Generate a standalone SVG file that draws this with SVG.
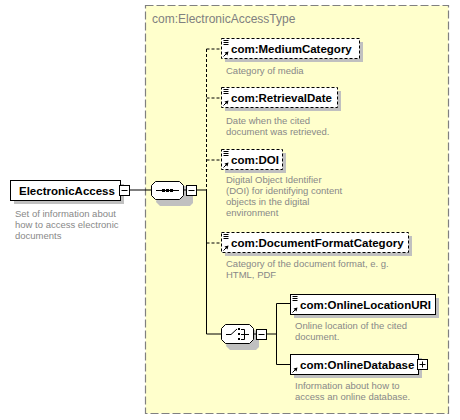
<svg xmlns="http://www.w3.org/2000/svg" width="460" height="420" viewBox="0 0 460 420">
<style>
.bg{fill:#ffffff}
.type{fill:#ffffcc;stroke:#808080;stroke-width:1.2;stroke-dasharray:8,3}
.title{font-family:"Liberation Sans",Arial,sans-serif;font-size:12px;fill:#808080}
.box{fill:#ffffff;stroke:#000000;stroke-width:1}
.opt{stroke-dasharray:3,2}
.shadow{fill:#c0c0c0}
.lbl{font-family:"Liberation Sans",Arial,sans-serif;font-size:11.5px;font-weight:bold;fill:#000000}
.desc{font-family:"Liberation Sans",Arial,sans-serif;font-size:9.5px;fill:#888888}
.ln{fill:none;stroke:#000000;stroke-width:1}
.dash{stroke-dasharray:3,2}
.pm{fill:#ffffff;stroke:#000000;stroke-width:1}
.dot{fill:#000000}
</style>
<defs>
<g id="lines"><path d="M2.5 2.5h5M2.5 4.5h5M2.5 6.5h5" class="ln"/></g>
<g id="ref"><path d="M2.5 -2.5L6 -6" class="ln"/><path d="M7.5 -7.5L3.5 -6.5L6.5 -3.5Z" class="dot"/></g>
</defs>
<rect x="0" y="0" width="460" height="420" class="bg"/>
<rect x="145.5" y="5.5" width="303" height="408" class="type"/>
<text x="152" y="23" class="title">com:ElectronicAccessType</text>

<g id="connectors">
<path d="M129.5 190H151" class="ln"/>
<path d="M196.5 190H206.5" class="ln"/>
<path d="M206.5 49V243" class="ln dash"/>
<path d="M206.5 49H221M206.5 98H221M206.5 160H221M206.5 243H221" class="ln dash"/>
<path d="M206.5 190V334H221" class="ln"/>
<path d="M266.5 334H276.5M276.5 303.5V364.5M276.5 303.5H290M276.5 364.5H290" class="ln"/>
</g>

<g id="ElectronicAccess">
<rect x="14" y="184" width="110" height="20" class="shadow"/>
<rect x="10.5" y="180.5" width="110" height="20" class="box"/>
<text x="19" y="195" class="lbl">ElectronicAccess</text>
<rect x="119.5" y="185.5" width="10" height="10" class="pm"/>
<path d="M121.5 190.5h6" class="ln"/>
<text class="desc"><tspan x="15" y="217">Set of information about</tspan><tspan x="15" y="228">how to access electronic</tspan><tspan x="15" y="239">documents</tspan></text>
</g>

<g id="sequence">
<path d="M160 186H189L193 190V203L190 206H160L156 202Z" class="shadow"/>
<path d="M155.5 181.5H179.5L183.5 185.5V195.5L179.5 199.5H155.5L151.5 195.5V185.5Z" class="box"/>
<path d="M156 190.5H179" class="ln"/>
<rect x="162" y="189" width="3" height="3" class="dot"/>
<rect x="166" y="189" width="3" height="3" class="dot"/>
<rect x="170" y="189" width="3" height="3" class="dot"/>
<path d="M183.5 190H186" class="ln"/>
<rect x="186.5" y="185.5" width="10" height="10" class="pm"/>
<path d="M188.5 190.5h6" class="ln"/>
</g>

<g id="MediumCategory">
<rect x="225" y="42" width="138" height="20" class="shadow"/>
<rect x="221.5" y="38.5" width="138" height="20" class="box opt"/>
<use href="#lines" x="221" y="38"/>
<use href="#ref" x="221" y="59"/>
<text x="231" y="53" class="lbl">com:MediumCategory</text>
<text x="226" y="74" class="desc">Category of media</text>
</g>

<g id="RetrievalDate">
<rect x="225" y="91" width="116" height="20" class="shadow"/>
<rect x="221.5" y="87.5" width="116" height="20" class="box opt"/>
<use href="#lines" x="221" y="87"/>
<use href="#ref" x="221" y="108"/>
<text x="231" y="102" class="lbl">com:RetrievalDate</text>
<text class="desc"><tspan x="226" y="124">Date when the cited</tspan><tspan x="226" y="135">document was retrieved.</tspan></text>
</g>

<g id="DOI">
<rect x="225" y="153" width="61" height="20" class="shadow"/>
<rect x="221.5" y="149.5" width="61" height="20" class="box opt"/>
<use href="#lines" x="221" y="149"/>
<use href="#ref" x="221" y="170"/>
<text x="231" y="164" class="lbl">com:DOI</text>
<text class="desc"><tspan x="226" y="183">Digital Object Identifier</tspan><tspan x="226" y="194">(DOI) for identifying content</tspan><tspan x="226" y="205">objects in the digital</tspan><tspan x="226" y="216">environment</tspan></text>
</g>

<g id="DocumentFormatCategory">
<rect x="225" y="236" width="187" height="20" class="shadow"/>
<rect x="221.5" y="232.5" width="187" height="20" class="box opt"/>
<use href="#lines" x="221" y="232"/>
<use href="#ref" x="221" y="253"/>
<text x="231" y="247" class="lbl">com:DocumentFormatCategory</text>
<text class="desc"><tspan x="226" y="267">Category of the document format, e. g.</tspan><tspan x="226" y="278">HTML, PDF</tspan></text>
</g>

<g id="choice">
<path d="M230 330H255L259 334V347L256 350H230L226 346Z" class="shadow"/>
<path d="M225.5 324.5H249.5L253.5 328.5V339.5L249.5 343.5H225.5L221.5 339.5V328.5Z" class="box"/>
<path d="M226 334.5H231L237 329" class="ln"/>
<rect x="238" y="328" width="2" height="2" class="dot"/>
<rect x="238" y="333" width="2" height="2" class="dot"/>
<rect x="238" y="338" width="2" height="2" class="dot"/>
<path d="M241 329.5H244.5V339.5H241M241 334.5H249" class="ln"/>
<path d="M253.5 334H256" class="ln"/>
<rect x="256.5" y="329.5" width="10" height="10" class="pm"/>
<path d="M258.5 334.5h6" class="ln"/>
</g>

<g id="OnlineLocationURI">
<rect x="294" y="298" width="145" height="20" class="shadow"/>
<rect x="290.5" y="294.5" width="145" height="20" class="box"/>
<use href="#lines" x="290" y="294"/>
<use href="#ref" x="290" y="315"/>
<text x="300" y="309" class="lbl">com:OnlineLocationURI</text>
<text class="desc"><tspan x="295" y="329">Online location of the cited</tspan><tspan x="295" y="340">document.</tspan></text>
</g>

<g id="OnlineDatabase">
<rect x="294" y="358" width="128" height="20" class="shadow"/>
<rect x="290.5" y="354.5" width="128" height="20" class="box"/>
<use href="#ref" x="290" y="375"/>
<text x="300" y="369" class="lbl">com:OnlineDatabase</text>
<rect x="417.5" y="359.5" width="10" height="10" class="pm"/>
<path d="M419.5 364.5h6M422.5 361.5v6" class="ln"/>
<text class="desc"><tspan x="295" y="389">Information about how to</tspan><tspan x="295" y="400">access an online database.</tspan></text>
</g>
</svg>
